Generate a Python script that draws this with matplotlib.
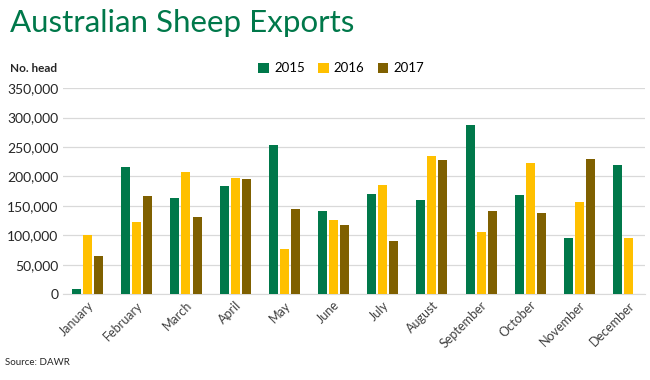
import numpy as np
import matplotlib
matplotlib.use("Agg")
import matplotlib.pyplot as plt
from matplotlib.ticker import FuncFormatter

months = ["January", "February", "March", "April", "May", "June", "July",
          "August", "September", "October", "November", "December"]
y2015 = [8500, 216000, 163000, 183500, 253000, 141000, 170000, 160000, 287000, 168000, 95000, 219000]
y2016 = [100000, 122000, 207000, 197000, 76500, 126000, 185000, 234500, 105000, 222500, 156000, 95000]
y2017 = [64500, 166500, 131000, 195000, 144500, 117000, 90000, 228000, 141000, 137500, 229500, 0]

plt.rcParams['font.family'] = ['Lato', 'DejaVu Sans']

fig = plt.figure(figsize=(6.5, 3.8), dpi=100)
ax = fig.add_axes([0.097, 0.226, 0.895, 0.542])

x = np.arange(len(months))
w = 0.183
off = 0.224
ax.bar(x - off, y2015, w, color="#00784A", label="2015", zorder=3)
ax.bar(x, y2016, w, color="#FFC000", label="2016", zorder=3)
ax.bar(x + off, y2017, w, color="#7F6000", label="2017", zorder=3)

ax.set_ylim(0, 350000)
ax.set_xlim(-0.5, 11.33)
ax.set_yticks(np.arange(0, 350001, 50000))
ax.yaxis.set_major_formatter(FuncFormatter(lambda v, p: f"{int(v):,}"))
ax.grid(axis="y", color="#d9d9d9", lw=0.9, zorder=0)
for s in ["top", "right", "left"]:
    ax.spines[s].set_visible(False)
ax.spines["bottom"].set_color("#d9d9d9")
ax.tick_params(axis="both", length=0)
ax.tick_params(axis="y", labelsize=10, colors="#262626")
ax.set_xticks(x)
ax.set_xticklabels(months, rotation=45, ha="right", rotation_mode="anchor",
                   fontsize=9, color="#404040")

fig.text(0.016, 0.94, "Australian Sheep Exports", fontsize=22.5, color="#00784A", va="center")
fig.text(0.015, 0.82, "No. head", fontsize=8.5, fontweight="bold", color="#262626", va="center")
fig.text(0.008, 0.045, "Source: DAWR", fontsize=7, color="#262626", va="center")

fig.legend(loc="center", bbox_to_anchor=(0.525, 0.82), ncol=3, frameon=False,
           fontsize=9.5, handlelength=0.8, handleheight=0.8, handletextpad=0.4,
           columnspacing=1.0)

fig.savefig("out.png", dpi=100)
